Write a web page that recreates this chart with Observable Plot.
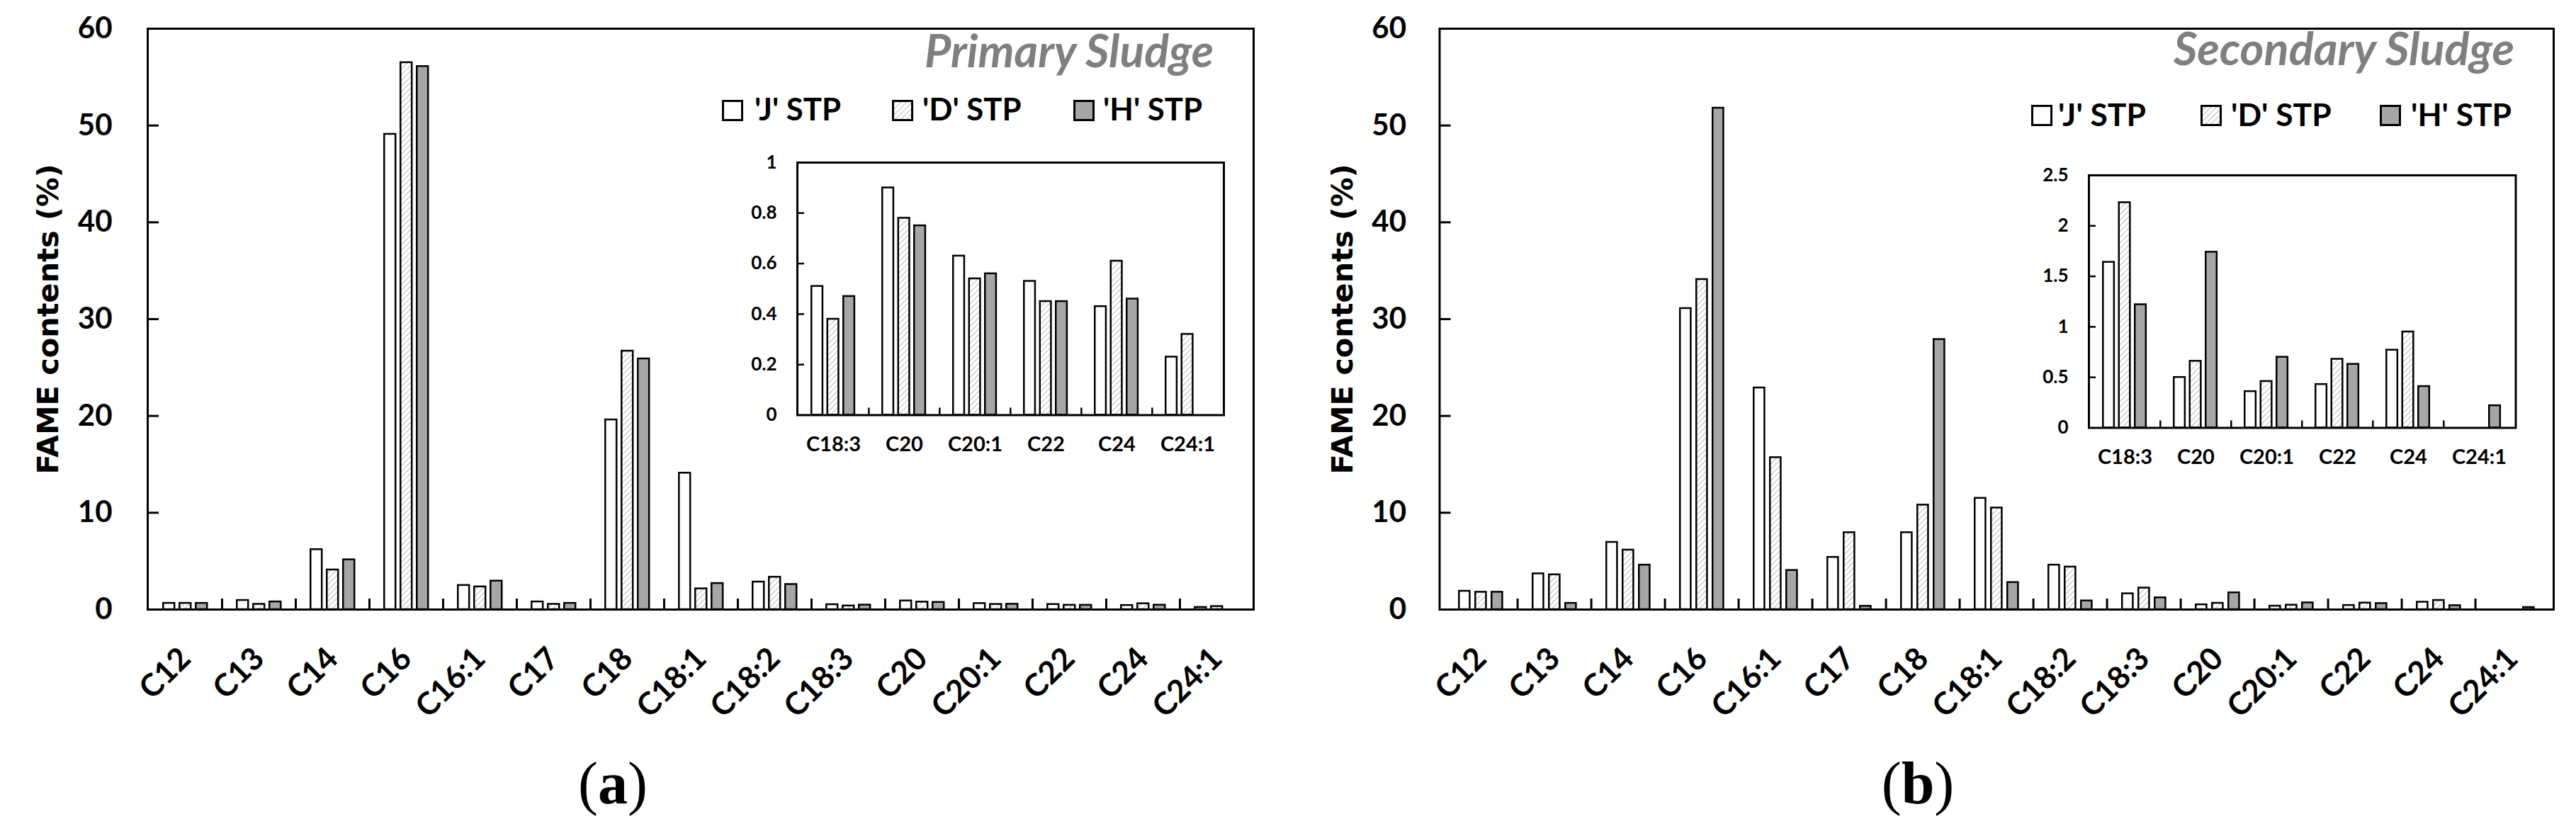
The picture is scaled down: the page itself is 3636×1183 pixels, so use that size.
<!DOCTYPE html>
<html>
<head>
<meta charset="utf-8">
<script src="https://cdn.jsdelivr.net/npm/d3@7"></script>
<script src="https://cdn.jsdelivr.net/npm/@observablehq/plot@0.6"></script>
<style>
  html, body { margin: 0; padding: 0; background: #fff; overflow: hidden; }
  #root { position: relative; width: 3636px; height: 1183px; }
  .abs { position: absolute; }
</style>
</head>
<body>
<svg width="0" height="0" style="position:absolute">
  <defs>
    <pattern id="hatch" patternUnits="userSpaceOnUse" width="8" height="8">
      <rect width="8" height="8" fill="#ffffff"></rect>
      <path d="M-1,1 l2,-2 M0,8 l8,-8 M7,9 l2,-2" stroke="#c0c0c0" stroke-width="1.2"></path>
    </pattern>
  </defs>
</svg>
<div id="root"></div>
<script>
// ---------- data ----------
const categories = ["C12","C13","C14","C16","C16:1","C17","C18","C18:1","C18:2","C18:3","C20","C20:1","C22","C24","C24:1"];
const insetCategories = ["C18:3","C20","C20:1","C22","C24","C24:1"];
const seriesNames = ["'J' STP", "'D' STP", "'H' STP"];

// (a) Primary sludge, FAME contents (%)
const primaryJ = [0.65, 0.95, 6.2, 49.1, 2.5, 0.8, 19.6, 14.1, 2.85, 0.51, 0.90, 0.63, 0.53, 0.43, 0.23];
const primaryD = [0.65, 0.55, 4.1, 56.5, 2.35, 0.55, 26.7, 2.15, 3.35, 0.38, 0.78, 0.54, 0.45, 0.61, 0.32];
const primaryH = [0.65, 0.80, 5.15, 56.1, 2.95, 0.65, 25.9, 2.7, 2.6, 0.47, 0.75, 0.56, 0.45, 0.46, null];

// (b) Secondary sludge, FAME contents (%)
const secondaryJ = [1.9, 3.7, 6.95, 31.1, 22.9, 5.4, 7.95, 11.5, 4.6, 1.64, 0.50, 0.36, 0.43, 0.77, null];
const secondaryD = [1.8, 3.6, 6.15, 34.1, 15.7, 7.95, 10.8, 10.5, 4.4, 2.23, 0.66, 0.46, 0.68, 0.95, null];
const secondaryH = [1.8, 0.65, 4.6, 51.8, 4.05, 0.35, 27.9, 2.8, 0.9, 1.22, 1.74, 0.70, 0.63, 0.41, 0.22];

const mainYTicks = [0, 10, 20, 30, 40, 50, 60];
const insetYTicksA = [0, 0.2, 0.4, 0.6, 0.8, 1];
const insetYTicksB = [0, 0.5, 1, 1.5, 2, 2.5];
const yTitle = "FAME contents (%)";
const panelTitles = ["Primary Sludge", "Secondary Sludge"];
const captions = ["a", "b"];

// ---------- styles ----------
const FONT = "Lato, 'Open Sans', sans-serif";
const fills = ["#ffffff", "url(#hatch)", "#a6a6a6"];
const SW = 2.5;

function rowsFor(cats, arrays) {
  const rows = [];
  arrays.forEach((arr, k) => {
    cats.forEach((c) => {
      const v = arr[categories.indexOf(c)];
      if (v != null) rows.push({cat: c, series: seriesNames[k], value: v});
    });
  });
  return rows;
}

function barMarks(rows, bw, start0, step, barW) {
  return seriesNames.map((s, k) => {
    const os = start0 + step * k;
    return Plot.barY(rows.filter(r => r.series === s), {
      x: "cat", y: "value", fill: fills[k], stroke: "#000", strokeWidth: SW,
      insetLeft: os + SW / 2, insetRight: bw - (os + barW - SW / 2)
    });
  });
}

function mainChart(arrays, cfg) {
  const width = 1818, height = 1040;
  const plotW = width - cfg.mL - cfg.mR;
  const plotH = cfg.bottom - cfg.mT;
  const bw = plotW / categories.length;
  const rows = rowsFor(categories, arrays);
  return Plot.plot({
    width, height,
    marginLeft: cfg.mL, marginRight: cfg.mR, marginTop: cfg.mT, marginBottom: height - cfg.bottom,
    style: {fontFamily: FONT, fontWeight: "bold", background: "transparent", color: "#000"},
    x: {type: "band", domain: categories, padding: 0, axis: null},
    y: {domain: [0, 60], label: null},
    marks: [
      ...barMarks(rows, bw, 20, 23, 18.5),
      Plot.frame({stroke: "#000", strokeWidth: 3}),
      Plot.ruleY(mainYTicks.slice(1, -1), {y: d => d, insetRight: plotW - 16, stroke: "#000", strokeWidth: 3}),
      Plot.ruleX(categories.slice(1), {x: d => d, dx: -bw / 2, insetTop: plotH - 15, stroke: "#000", strokeWidth: 3}),
      Plot.axisY(mainYTicks, {tickSize: 0, tickPadding: cfg.tickPad, fontSize: 42, fontWeight: "bold", label: null, fill: "#000"}),
      Plot.text(categories, {x: d => d, text: d => d, frameAnchor: "bottom", dx: 10, dy: 72, rotate: -45,
        textAnchor: "end", lineAnchor: "bottom", fontSize: 44, fontWeight: "bold", fill: "#000"}),
      Plot.text([yTitle], {text: d => d, frameAnchor: "left", dx: cfg.titleDx, rotate: -90, lineAnchor: "middle",
        textAnchor: "middle", fontFamily: "'DejaVu Sans', sans-serif", fontWeight: "bold", fontSize: 38, fill: "#000"})
    ]
  });
}

function insetChart(arrays, cfg) {
  const mL = 80, mR = 10, mT = 20, mB = 70;
  const plotW = cfg.w, plotH = cfg.h;
  const width = mL + plotW + mR, height = mT + plotH + mB;
  const bw = plotW / insetCategories.length;
  const rows = rowsFor(insetCategories, arrays);
  const ticks = cfg.ticks;
  return Plot.plot({
    width, height, marginLeft: mL, marginRight: mR, marginTop: mT, marginBottom: mB,
    style: {fontFamily: FONT, fontWeight: "bold", background: "transparent", color: "#000"},
    x: {type: "band", domain: insetCategories, padding: 0, axis: null},
    y: {domain: [ticks[0], ticks[ticks.length - 1]], label: null},
    marks: [
      ...barMarks(rows, bw, 18, 22.5, 18.5),
      Plot.frame({stroke: "#000", strokeWidth: 3}),
      Plot.ruleY(ticks.slice(1, -1), {y: d => d, insetRight: plotW - 10, stroke: "#000", strokeWidth: 2.5}),
      Plot.ruleX(insetCategories.slice(1), {x: d => d, dx: -bw / 2, insetTop: plotH - 10, stroke: "#000", strokeWidth: 2.5}),
      Plot.axisY(ticks, {tickSize: 0, tickPadding: 29, fontSize: 26, fontWeight: "bold", label: null, fill: "#000", tickFormat: d => String(d)}),
      Plot.text(insetCategories, {x: d => d, text: d => d, frameAnchor: "bottom", dy: 42, lineAnchor: "middle",
        fontSize: 29, fontWeight: "bold", fill: "#000"})
    ]
  });
}

const root = document.getElementById("root");
function place(el, left, top) {
  const wrap = document.createElement("div");
  wrap.className = "abs";
  wrap.style.left = left + "px";
  wrap.style.top = top + "px";
  wrap.appendChild(el);
  root.appendChild(wrap);
  return wrap;
}

// main panels
const mainA = mainChart([primaryJ, primaryD, primaryH], {mL: 208, mR: 49, mT: 40, bottom: 860, tickPad: 50, titleDx: -140});
const mainB = mainChart([secondaryJ, secondaryD, secondaryH], {mL: 213.5, mR: 32, mT: 40, bottom: 860, tickPad: 47, titleDx: -136});
place(mainA, 0, 0);
place(mainB, 1818, 0);

// insets (frame left/top minus inset margins)
place(insetChart([primaryJ, primaryD, primaryH], {w: 602, h: 356.5, ticks: insetYTicksA}), 1125 - 80, 229 - 20);
place(insetChart([secondaryJ, secondaryD, secondaryH], {w: 602.5, h: 356.5, ticks: insetYTicksB}), 2948 - 80, 247 - 20);

// ---------- overlay: legends, panel titles, captions ----------
const overlay = d3.select(root).append("svg")
  .attr("width", 3636).attr("height", 1183)
  .style("position", "absolute").style("left", "0px").style("top", "0px")
  .style("pointer-events", "none");

const fitters = [];

function legend(boxLefts, textLefts, boxTop, baseline, targetWidth) {
  const texts = [];
  seriesNames.forEach((name, k) => {
    overlay.append("rect").attr("x", boxLefts[k] + 1.5).attr("y", boxTop + 1.5).attr("width", 27).attr("height", 27)
      .attr("fill", fills[k]).attr("stroke", "#000").attr("stroke-width", 3);
    texts.push(overlay.append("text").attr("x", textLefts[k]).attr("y", baseline)
      .attr("font-family", "Lato, 'Open Sans', sans-serif").attr("font-weight", 700)
      .attr("font-size", 46).attr("fill", "#000").text(name));
  });
  fitters.push(() => {
    const cur = +texts[2].attr("font-size");
    const len = texts[2].node().getComputedTextLength();
    if (len > 0) texts.forEach(t => t.attr("font-size", cur * targetWidth / len));
  });
}
legend([1019, 1259, 1515], [1065, 1302, 1557], 141, 170, 140);
legend([2867, 3106, 3359], [2905, 3149, 3403], 148, 178, 142);

function title(text, rightEdge, baseline, targetWidth) {
  const t = overlay.append("text").attr("x", rightEdge).attr("y", baseline).attr("text-anchor", "end")
    .attr("font-family", "Lato, 'Open Sans', sans-serif").attr("font-weight", 700).attr("font-style", "italic")
    .attr("font-size", 56).attr("fill", "#7f7f7f").text(text);
  fitters.push(() => {
    const cur = +t.attr("font-size");
    const len = t.node().getComputedTextLength();
    if (len > 0) t.attr("font-size", cur * targetWidth / len);
  });
}
title(panelTitles[0], 1713, 95, 408);
title(panelTitles[1], 3549, 92, 481);

function caption(letter, cx) {
  const t = overlay.append("text").attr("x", cx).attr("y", 1134).attr("text-anchor", "middle")
    .attr("font-family", "'Liberation Serif', 'DejaVu Serif', serif").attr("font-size", 84).attr("fill", "#000");
  t.append("tspan").text("(");
  t.append("tspan").attr("font-weight", 700).text(letter);
  t.append("tspan").text(")");
}
caption(captions[0], 865);
caption(captions[1], 2707);

// fit the rotated y-axis titles to the reference length
[mainA, mainB].forEach(svg => {
  const sel = d3.select(svg).selectAll("text").filter(function () { return this.textContent === yTitle; });
  fitters.push(() => {
    sel.each(function () {
      const cs = parseFloat(getComputedStyle(this).fontSize) || 38;
      const len = this.getComputedTextLength();
      if (len > 0) this.style.fontSize = (cs * 438 / len) + "px";
    });
  });
});

function fitAll() { fitters.forEach(f => f()); }
fitAll();
if (document.fonts && document.fonts.ready) document.fonts.ready.then(fitAll);
</script>
</body>
</html>
